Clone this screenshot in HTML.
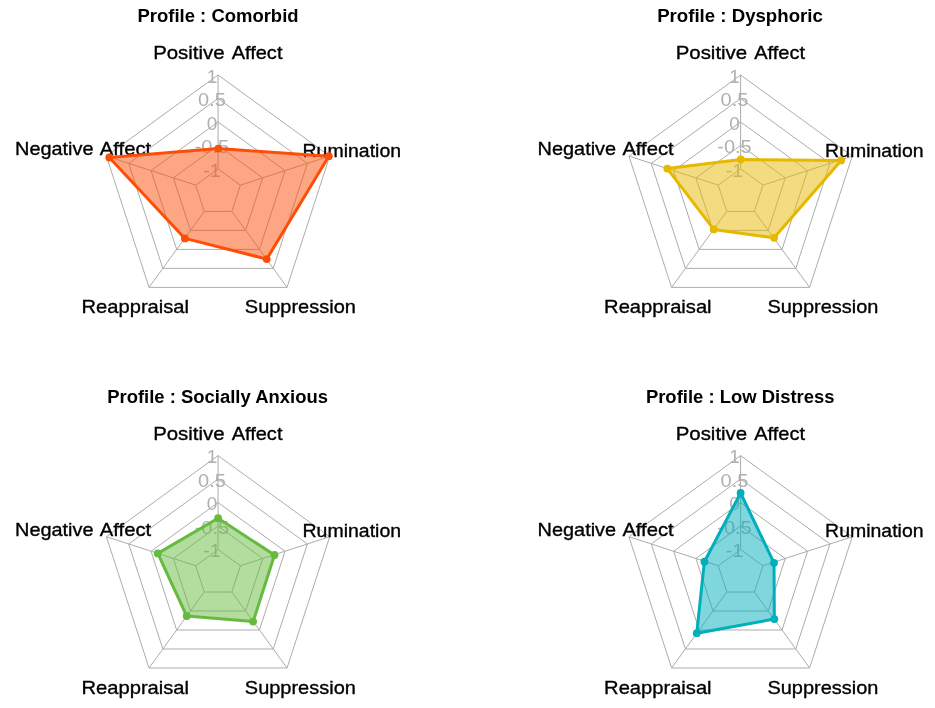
<!DOCTYPE html><html><head><meta charset="utf-8"><title>Profiles</title><style>html,body{margin:0;padding:0;background:#fff}svg{display:block}text{font-family:"Liberation Sans",Arial,sans-serif}</style></head><body>
<svg width="935" height="708" viewBox="0 0 935 708">
<rect width="935" height="708" fill="#fff"/>
<g>
<polygon points="218.05,168.92 195.72,185.14 204.25,211.40 231.85,211.40 240.38,185.14" fill="none" stroke="#acacac" stroke-width="1"/>
<polygon points="218.05,145.44 173.39,177.89 190.45,230.39 245.65,230.39 262.71,177.89" fill="none" stroke="#acacac" stroke-width="1"/>
<polygon points="218.05,121.96 151.06,170.63 176.65,249.39 259.45,249.39 285.04,170.63" fill="none" stroke="#acacac" stroke-width="1"/>
<polygon points="218.05,98.48 128.73,163.38 162.85,268.38 273.25,268.38 307.37,163.38" fill="none" stroke="#acacac" stroke-width="1"/>
<polygon points="218.05,75.00 106.40,156.12 149.04,287.38 287.06,287.38 329.70,156.12" fill="none" stroke="#acacac" stroke-width="1"/>
<line x1="218.05" y1="168.92" x2="218.05" y2="75.00" stroke="#acacac" stroke-width="1"/>
<line x1="195.72" y1="185.14" x2="106.40" y2="156.12" stroke="#acacac" stroke-width="1"/>
<line x1="204.25" y1="211.40" x2="149.04" y2="287.38" stroke="#acacac" stroke-width="1"/>
<line x1="231.85" y1="211.40" x2="287.06" y2="287.38" stroke="#acacac" stroke-width="1"/>
<line x1="240.38" y1="185.14" x2="329.70" y2="156.12" stroke="#acacac" stroke-width="1"/>
<text x="211.95" y="176.52" font-size="19.0" fill="#b0b0b0" text-anchor="middle" textLength="17.6" lengthAdjust="spacingAndGlyphs">-1</text>
<text x="211.95" y="153.04" font-size="19.0" fill="#b0b0b0" text-anchor="middle" textLength="34.5" lengthAdjust="spacingAndGlyphs">-0.5</text>
<text x="211.95" y="129.56" font-size="19.0" fill="#b0b0b0" text-anchor="middle" textLength="10.6" lengthAdjust="spacingAndGlyphs">0</text>
<text x="211.95" y="106.08" font-size="19.0" fill="#b0b0b0" text-anchor="middle" textLength="27.8" lengthAdjust="spacingAndGlyphs">0.5</text>
<text x="211.95" y="82.60" font-size="19.0" fill="#b0b0b0" text-anchor="middle" textLength="10.6" lengthAdjust="spacingAndGlyphs">1</text>
<text y="58.70" font-size="19.0" fill="#000" stroke="#000" stroke-width="0.35"><tspan x="153.15" textLength="71.5" lengthAdjust="spacingAndGlyphs">Positive</tspan> <tspan x="231.65" textLength="50.8" lengthAdjust="spacingAndGlyphs">Affect</tspan></text>
<text y="154.90" font-size="19.0" fill="#000" stroke="#000" stroke-width="0.35"><tspan x="15.05" textLength="78.5" lengthAdjust="spacingAndGlyphs">Negative</tspan> <tspan x="99.85" textLength="51.3" lengthAdjust="spacingAndGlyphs">Affect</tspan></text>
<text y="312.90" font-size="19.0" fill="#000" stroke="#000" stroke-width="0.35"><tspan x="81.55" textLength="107.5" lengthAdjust="spacingAndGlyphs">Reappraisal</tspan></text>
<text y="312.90" font-size="19.0" fill="#000" stroke="#000" stroke-width="0.35"><tspan x="244.85" textLength="111.0" lengthAdjust="spacingAndGlyphs">Suppression</tspan></text>
<text y="156.70" font-size="19.0" fill="#000" stroke="#000" stroke-width="0.35"><tspan x="302.55" textLength="98.5" lengthAdjust="spacingAndGlyphs">Rumination</tspan></text>
<polygon points="218.25,148.60 109.30,157.50 184.90,238.40 266.70,259.10 328.80,156.20" fill="#FC4E07" fill-opacity="0.5" stroke="#FC4E07" stroke-width="3" stroke-linejoin="round"/>
<circle cx="218.25" cy="148.60" r="3.9" fill="#FC4E07"/>
<circle cx="109.30" cy="157.50" r="3.9" fill="#FC4E07"/>
<circle cx="184.90" cy="238.40" r="3.9" fill="#FC4E07"/>
<circle cx="266.70" cy="259.10" r="3.9" fill="#FC4E07"/>
<circle cx="328.80" cy="156.20" r="3.9" fill="#FC4E07"/>
<text x="218.05" y="22.10" font-size="18" font-weight="bold" fill="#000" text-anchor="middle" textLength="161.0" lengthAdjust="spacingAndGlyphs">Profile : Comorbid</text>
</g>
<g>
<polygon points="740.60,168.92 718.27,185.14 726.80,211.40 754.40,211.40 762.93,185.14" fill="none" stroke="#acacac" stroke-width="1"/>
<polygon points="740.60,145.44 695.94,177.89 713.00,230.39 768.20,230.39 785.26,177.89" fill="none" stroke="#acacac" stroke-width="1"/>
<polygon points="740.60,121.96 673.61,170.63 699.20,249.39 782.00,249.39 807.59,170.63" fill="none" stroke="#acacac" stroke-width="1"/>
<polygon points="740.60,98.48 651.28,163.38 685.40,268.38 795.80,268.38 829.92,163.38" fill="none" stroke="#acacac" stroke-width="1"/>
<polygon points="740.60,75.00 628.95,156.12 671.59,287.38 809.61,287.38 852.25,156.12" fill="none" stroke="#acacac" stroke-width="1"/>
<line x1="740.60" y1="168.92" x2="740.60" y2="75.00" stroke="#acacac" stroke-width="1"/>
<line x1="718.27" y1="185.14" x2="628.95" y2="156.12" stroke="#acacac" stroke-width="1"/>
<line x1="726.80" y1="211.40" x2="671.59" y2="287.38" stroke="#acacac" stroke-width="1"/>
<line x1="754.40" y1="211.40" x2="809.61" y2="287.38" stroke="#acacac" stroke-width="1"/>
<line x1="762.93" y1="185.14" x2="852.25" y2="156.12" stroke="#acacac" stroke-width="1"/>
<text x="734.50" y="176.52" font-size="19.0" fill="#b0b0b0" text-anchor="middle" textLength="17.6" lengthAdjust="spacingAndGlyphs">-1</text>
<text x="734.50" y="153.04" font-size="19.0" fill="#b0b0b0" text-anchor="middle" textLength="34.5" lengthAdjust="spacingAndGlyphs">-0.5</text>
<text x="734.50" y="129.56" font-size="19.0" fill="#b0b0b0" text-anchor="middle" textLength="10.6" lengthAdjust="spacingAndGlyphs">0</text>
<text x="734.50" y="106.08" font-size="19.0" fill="#b0b0b0" text-anchor="middle" textLength="27.8" lengthAdjust="spacingAndGlyphs">0.5</text>
<text x="734.50" y="82.60" font-size="19.0" fill="#b0b0b0" text-anchor="middle" textLength="10.6" lengthAdjust="spacingAndGlyphs">1</text>
<text y="58.70" font-size="19.0" fill="#000" stroke="#000" stroke-width="0.35"><tspan x="675.70" textLength="71.5" lengthAdjust="spacingAndGlyphs">Positive</tspan> <tspan x="754.20" textLength="50.8" lengthAdjust="spacingAndGlyphs">Affect</tspan></text>
<text y="154.90" font-size="19.0" fill="#000" stroke="#000" stroke-width="0.35"><tspan x="537.60" textLength="78.5" lengthAdjust="spacingAndGlyphs">Negative</tspan> <tspan x="622.40" textLength="51.3" lengthAdjust="spacingAndGlyphs">Affect</tspan></text>
<text y="312.90" font-size="19.0" fill="#000" stroke="#000" stroke-width="0.35"><tspan x="604.10" textLength="107.5" lengthAdjust="spacingAndGlyphs">Reappraisal</tspan></text>
<text y="312.90" font-size="19.0" fill="#000" stroke="#000" stroke-width="0.35"><tspan x="767.40" textLength="111.0" lengthAdjust="spacingAndGlyphs">Suppression</tspan></text>
<text y="156.70" font-size="19.0" fill="#000" stroke="#000" stroke-width="0.35"><tspan x="825.10" textLength="98.5" lengthAdjust="spacingAndGlyphs">Rumination</tspan></text>
<polygon points="740.80,159.50 667.30,168.60 713.75,229.40 774.10,237.80 841.10,160.40" fill="#E7B800" fill-opacity="0.5" stroke="#E7B800" stroke-width="3" stroke-linejoin="round"/>
<circle cx="740.80" cy="159.50" r="3.9" fill="#E7B800"/>
<circle cx="667.30" cy="168.60" r="3.9" fill="#E7B800"/>
<circle cx="713.75" cy="229.40" r="3.9" fill="#E7B800"/>
<circle cx="774.10" cy="237.80" r="3.9" fill="#E7B800"/>
<circle cx="841.10" cy="160.40" r="3.9" fill="#E7B800"/>
<text x="740.00" y="22.10" font-size="18" font-weight="bold" fill="#000" text-anchor="middle" textLength="165.6" lengthAdjust="spacingAndGlyphs">Profile : Dysphoric</text>
</g>
<g>
<polygon points="218.05,549.52 195.72,565.74 204.25,592.00 231.85,592.00 240.38,565.74" fill="none" stroke="#acacac" stroke-width="1"/>
<polygon points="218.05,526.04 173.39,558.49 190.45,610.99 245.65,610.99 262.71,558.49" fill="none" stroke="#acacac" stroke-width="1"/>
<polygon points="218.05,502.56 151.06,551.23 176.65,629.99 259.45,629.99 285.04,551.23" fill="none" stroke="#acacac" stroke-width="1"/>
<polygon points="218.05,479.08 128.73,543.98 162.85,648.98 273.25,648.98 307.37,543.98" fill="none" stroke="#acacac" stroke-width="1"/>
<polygon points="218.05,455.60 106.40,536.72 149.04,667.98 287.06,667.98 329.70,536.72" fill="none" stroke="#acacac" stroke-width="1"/>
<line x1="218.05" y1="549.52" x2="218.05" y2="455.60" stroke="#acacac" stroke-width="1"/>
<line x1="195.72" y1="565.74" x2="106.40" y2="536.72" stroke="#acacac" stroke-width="1"/>
<line x1="204.25" y1="592.00" x2="149.04" y2="667.98" stroke="#acacac" stroke-width="1"/>
<line x1="231.85" y1="592.00" x2="287.06" y2="667.98" stroke="#acacac" stroke-width="1"/>
<line x1="240.38" y1="565.74" x2="329.70" y2="536.72" stroke="#acacac" stroke-width="1"/>
<text x="211.95" y="557.12" font-size="19.0" fill="#b0b0b0" text-anchor="middle" textLength="17.6" lengthAdjust="spacingAndGlyphs">-1</text>
<text x="211.95" y="533.64" font-size="19.0" fill="#b0b0b0" text-anchor="middle" textLength="34.5" lengthAdjust="spacingAndGlyphs">-0.5</text>
<text x="211.95" y="510.16" font-size="19.0" fill="#b0b0b0" text-anchor="middle" textLength="10.6" lengthAdjust="spacingAndGlyphs">0</text>
<text x="211.95" y="486.68" font-size="19.0" fill="#b0b0b0" text-anchor="middle" textLength="27.8" lengthAdjust="spacingAndGlyphs">0.5</text>
<text x="211.95" y="463.20" font-size="19.0" fill="#b0b0b0" text-anchor="middle" textLength="10.6" lengthAdjust="spacingAndGlyphs">1</text>
<text y="439.90" font-size="19.0" fill="#000" stroke="#000" stroke-width="0.35"><tspan x="153.15" textLength="71.5" lengthAdjust="spacingAndGlyphs">Positive</tspan> <tspan x="231.65" textLength="50.8" lengthAdjust="spacingAndGlyphs">Affect</tspan></text>
<text y="535.50" font-size="19.0" fill="#000" stroke="#000" stroke-width="0.35"><tspan x="15.05" textLength="78.5" lengthAdjust="spacingAndGlyphs">Negative</tspan> <tspan x="99.85" textLength="51.3" lengthAdjust="spacingAndGlyphs">Affect</tspan></text>
<text y="693.50" font-size="19.0" fill="#000" stroke="#000" stroke-width="0.35"><tspan x="81.55" textLength="107.5" lengthAdjust="spacingAndGlyphs">Reappraisal</tspan></text>
<text y="693.50" font-size="19.0" fill="#000" stroke="#000" stroke-width="0.35"><tspan x="244.85" textLength="111.0" lengthAdjust="spacingAndGlyphs">Suppression</tspan></text>
<text y="537.30" font-size="19.0" fill="#000" stroke="#000" stroke-width="0.35"><tspan x="302.55" textLength="98.5" lengthAdjust="spacingAndGlyphs">Rumination</tspan></text>
<polygon points="218.10,518.20 157.80,553.40 186.70,616.00 253.10,621.60 274.50,555.00" fill="#66BB3F" fill-opacity="0.5" stroke="#66BB3F" stroke-width="3" stroke-linejoin="round"/>
<circle cx="218.10" cy="518.20" r="3.9" fill="#66BB3F"/>
<circle cx="157.80" cy="553.40" r="3.9" fill="#66BB3F"/>
<circle cx="186.70" cy="616.00" r="3.9" fill="#66BB3F"/>
<circle cx="253.10" cy="621.60" r="3.9" fill="#66BB3F"/>
<circle cx="274.50" cy="555.00" r="3.9" fill="#66BB3F"/>
<text x="217.55" y="402.70" font-size="18" font-weight="bold" fill="#000" text-anchor="middle" textLength="220.8" lengthAdjust="spacingAndGlyphs">Profile : Socially Anxious</text>
</g>
<g>
<polygon points="740.60,549.52 718.27,565.74 726.80,592.00 754.40,592.00 762.93,565.74" fill="none" stroke="#acacac" stroke-width="1"/>
<polygon points="740.60,526.04 695.94,558.49 713.00,610.99 768.20,610.99 785.26,558.49" fill="none" stroke="#acacac" stroke-width="1"/>
<polygon points="740.60,502.56 673.61,551.23 699.20,629.99 782.00,629.99 807.59,551.23" fill="none" stroke="#acacac" stroke-width="1"/>
<polygon points="740.60,479.08 651.28,543.98 685.40,648.98 795.80,648.98 829.92,543.98" fill="none" stroke="#acacac" stroke-width="1"/>
<polygon points="740.60,455.60 628.95,536.72 671.59,667.98 809.61,667.98 852.25,536.72" fill="none" stroke="#acacac" stroke-width="1"/>
<line x1="740.60" y1="549.52" x2="740.60" y2="455.60" stroke="#acacac" stroke-width="1"/>
<line x1="718.27" y1="565.74" x2="628.95" y2="536.72" stroke="#acacac" stroke-width="1"/>
<line x1="726.80" y1="592.00" x2="671.59" y2="667.98" stroke="#acacac" stroke-width="1"/>
<line x1="754.40" y1="592.00" x2="809.61" y2="667.98" stroke="#acacac" stroke-width="1"/>
<line x1="762.93" y1="565.74" x2="852.25" y2="536.72" stroke="#acacac" stroke-width="1"/>
<text x="734.50" y="557.12" font-size="19.0" fill="#b0b0b0" text-anchor="middle" textLength="17.6" lengthAdjust="spacingAndGlyphs">-1</text>
<text x="734.50" y="533.64" font-size="19.0" fill="#b0b0b0" text-anchor="middle" textLength="34.5" lengthAdjust="spacingAndGlyphs">-0.5</text>
<text x="734.50" y="510.16" font-size="19.0" fill="#b0b0b0" text-anchor="middle" textLength="10.6" lengthAdjust="spacingAndGlyphs">0</text>
<text x="734.50" y="486.68" font-size="19.0" fill="#b0b0b0" text-anchor="middle" textLength="27.8" lengthAdjust="spacingAndGlyphs">0.5</text>
<text x="734.50" y="463.20" font-size="19.0" fill="#b0b0b0" text-anchor="middle" textLength="10.6" lengthAdjust="spacingAndGlyphs">1</text>
<text y="440.00" font-size="19.0" fill="#000" stroke="#000" stroke-width="0.35"><tspan x="675.70" textLength="71.5" lengthAdjust="spacingAndGlyphs">Positive</tspan> <tspan x="754.20" textLength="50.8" lengthAdjust="spacingAndGlyphs">Affect</tspan></text>
<text y="535.80" font-size="19.0" fill="#000" stroke="#000" stroke-width="0.35"><tspan x="537.60" textLength="78.5" lengthAdjust="spacingAndGlyphs">Negative</tspan> <tspan x="622.40" textLength="51.3" lengthAdjust="spacingAndGlyphs">Affect</tspan></text>
<text y="693.50" font-size="19.0" fill="#000" stroke="#000" stroke-width="0.35"><tspan x="604.10" textLength="107.5" lengthAdjust="spacingAndGlyphs">Reappraisal</tspan></text>
<text y="693.50" font-size="19.0" fill="#000" stroke="#000" stroke-width="0.35"><tspan x="767.40" textLength="111.0" lengthAdjust="spacingAndGlyphs">Suppression</tspan></text>
<text y="537.30" font-size="19.0" fill="#000" stroke="#000" stroke-width="0.35"><tspan x="825.10" textLength="98.5" lengthAdjust="spacingAndGlyphs">Rumination</tspan></text>
<polygon points="740.60,493.00 704.40,561.70 696.75,633.15 774.35,619.10 774.00,562.85" fill="#00AFBB" fill-opacity="0.5" stroke="#00AFBB" stroke-width="3" stroke-linejoin="round"/>
<circle cx="740.60" cy="493.00" r="3.9" fill="#00AFBB"/>
<circle cx="704.40" cy="561.70" r="3.9" fill="#00AFBB"/>
<circle cx="696.75" cy="633.15" r="3.9" fill="#00AFBB"/>
<circle cx="774.35" cy="619.10" r="3.9" fill="#00AFBB"/>
<circle cx="774.00" cy="562.85" r="3.9" fill="#00AFBB"/>
<text x="740.20" y="402.70" font-size="18" font-weight="bold" fill="#000" text-anchor="middle" textLength="188.6" lengthAdjust="spacingAndGlyphs">Profile : Low Distress</text>
</g>
</svg></body></html>
